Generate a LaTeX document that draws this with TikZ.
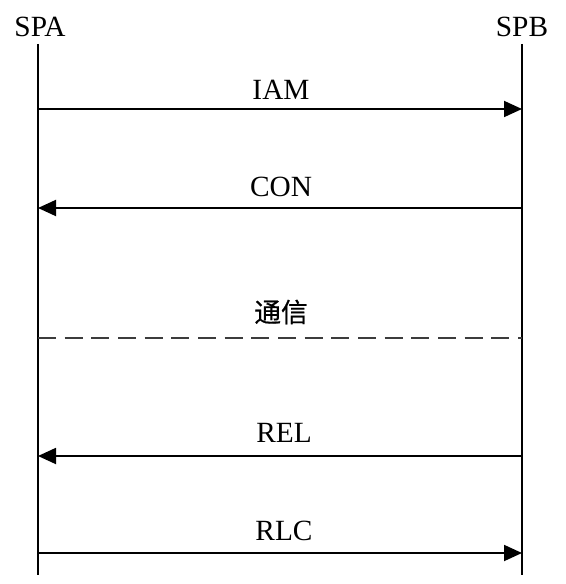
\documentclass[tikz,border=0pt]{standalone}
\usepackage{fontspec}
\setmainfont{Liberation Serif}
\newfontfamily\cjkfont[FakeBold=0.6]{Noto Sans CJK SC}
\usetikzlibrary{arrows.meta}

\tikzset{every picture/.style={line width=1.4pt}}
\tikzset{
  msg/.style={-{Triangle[length=13.5pt,width=12pt]}},
  lbl/.style={inner sep=0.75pt,font=\fontsize{22}{26}\selectfont},
}

\begin{document}
\begin{tikzpicture}[x=0.75pt,y=0.75pt,yscale=-1,xscale=1]
\useasboundingbox (0,0) rectangle (566,584);

%Lifelines
\coordinate (aTop) at (38,44);
\coordinate (aBot) at (38,575);
\coordinate (bTop) at (522,44);
\coordinate (bBot) at (522,575);
\draw (aTop) -- (aBot) ;
\draw (bTop) -- (bBot) ;

% Text Node
\node (spa) [lbl] at (40,27) {SPA};
% Text Node
\node (spb) [lbl] at (522,27) {SPB};

%Straight Lines (IAM)
\coordinate (iamA) at (38,109);
\coordinate (iamB) at (522,109);
\draw [msg] (iamA) -- (iamB) ;
\node (iam) [lbl] at (281,90) {IAM};

%Straight Lines (CON)
\coordinate (conA) at (38,208);
\coordinate (conB) at (522,208);
\draw [msg] (conB) -- (conA) ;
\node (con) [lbl] at (281,187) {CON};

%Straight Lines (dashed)
\coordinate (talkA) at (38,338);
\coordinate (talkB) at (522,338);
\draw [color={rgb, 255:red, 60; green, 60; blue, 60 }] [dash pattern={on 13.5pt off 6.5pt}] (talkA) -- (talkB) ;
\node (talk) [lbl,font=\cjkfont\fontsize{20}{24}\selectfont] at (281,312) {通信};

%Straight Lines (REL)
\coordinate (relA) at (38,456);
\coordinate (relB) at (522,456);
\draw [msg] (relB) -- (relA) ;
\node (rel) [lbl] at (284,433) {REL};

%Straight Lines (RLC)
\coordinate (rlcA) at (38,553);
\coordinate (rlcB) at (522,553);
\draw [msg] (rlcA) -- (rlcB) ;
\node (rlc) [lbl] at (284,531) {RLC};

\end{tikzpicture}
\end{document}
